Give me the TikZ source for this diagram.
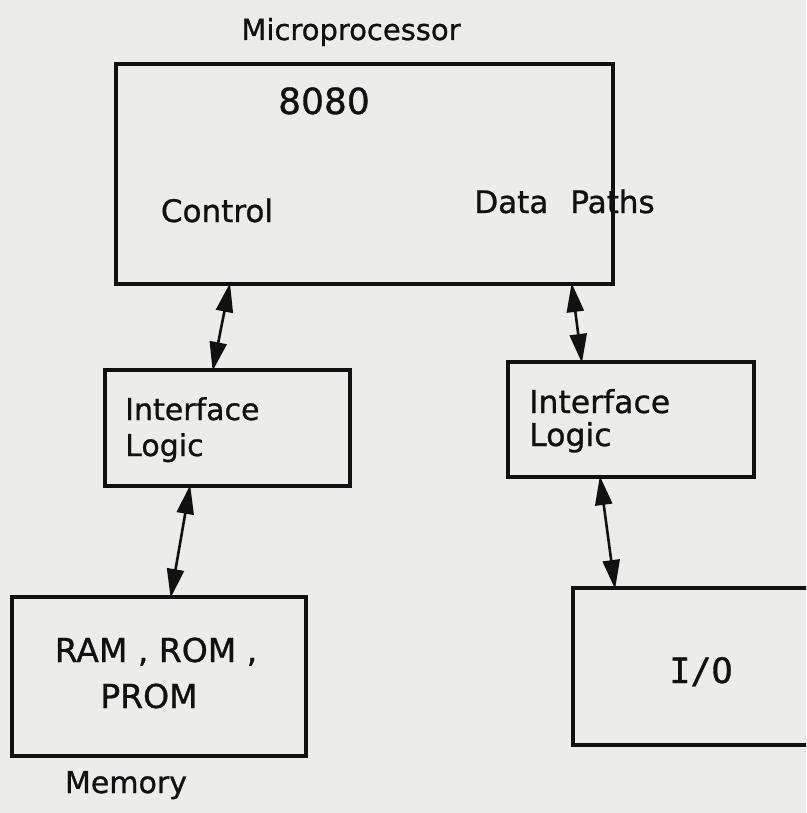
\documentclass[tikz,border=0pt]{standalone}
\usepackage{fontspec}
\setmainfont[FakeBold=0.9]{DejaVu Sans}
\newfontfamily\monofnt[FakeBold=0.9]{DejaVu Sans Mono}
\usetikzlibrary{arrows.meta,calc}
\definecolor{paper}{HTML}{ECECEA}
\definecolor{ink}{HTML}{111111}
\newcommand{\fsz}[1]{\fontsize{#1}{#1}\selectfont}
\begin{document}
\begin{tikzpicture}[x=1pt,y=1pt,
  box/.style={draw=ink,line width=4.8pt,rectangle,inner sep=0pt,outer sep=0pt},
  lbl/.style={text=ink,inner sep=0pt,anchor=base,font=\fsz{30}},
  lbll/.style={text=ink,inner sep=0pt,anchor=base west,font=\fsz{30}},
  conn/.style={draw=ink,line width=2.6pt,{Triangle[length=29pt,width=17pt]}-{Triangle[length=29pt,width=17pt]},shorten <=-1pt,shorten >=-1pt}]
\fill[paper] (0,0) rectangle (806,-813);
\useasboundingbox (0,0) rectangle (806,-813);
\clip (0,0) rectangle (806,-813);
% boxes
\node[box,minimum width=497pt,minimum height=220pt] (main) at (364.5,-174) {};
\node[box,minimum width=245pt,minimum height=116pt] (ill) at (227.5,-428) {};
\node[box,minimum width=246pt,minimum height=115pt] (ilr) at (631,-419.5) {};
\node[box,minimum width=294pt,minimum height=159pt] (mem) at (159,-676.5) {};
\node[box,minimum width=267pt,minimum height=157pt] (io) at (706.5,-666.5) {};
% labels
\node[lbl,font=\fsz{29}] (tmicro) at (351,-40) {Microprocessor};
\node[lbl,font=\fsz{36}] (t8080) at (324,-114) {8080};
\node[lbl,font=\fsz{31}] (tcontrol) at (217,-222) {Control};
\node[lbl,font=\fsz{31}] (tdata) at (564.5,-213) {Data\hspace{22pt}Paths};
\node[lbll] (til1) at (125,-420) {Interface};
\node[lbll] (til2) at (125,-456) {Logic};
\node[lbll,font=\fsz{31.5}] (tir1) at (529,-413) {Interface};
\node[lbll,font=\fsz{31.5}] (tir2) at (529,-446) {Logic};
\node[lbl,font=\fsz{33}] (tram) at (156,-662) {RAM , ROM ,};
\node[lbl,font=\fsz{33}] (tprom) at (149,-708) {PROM};
\node[lbl] (tmemory) at (126,-793) {Memory};
\node[lbl,font={\monofnt\fsz{35}}] (tio) at (701,-683) {I/O};
% connectors
\draw[conn] ($(main.south west)!0.229!(main.south east)$) -- ($(ill.north west)!0.44!(ill.north east)$);
\draw[conn] ($(main.south west)!0.917!(main.south east)$) -- ($(ilr.north west)!0.30!(ilr.north east)$);
\draw[conn] ($(ill.south west)!0.347!(ill.south east)$) -- ($(mem.north west)!0.54!(mem.north east)$);
\draw[conn] ($(ilr.south west)!0.374!(ilr.south east)$) -- ($(io.north west)!0.157!(io.north east)$);
\end{tikzpicture}
\end{document}
